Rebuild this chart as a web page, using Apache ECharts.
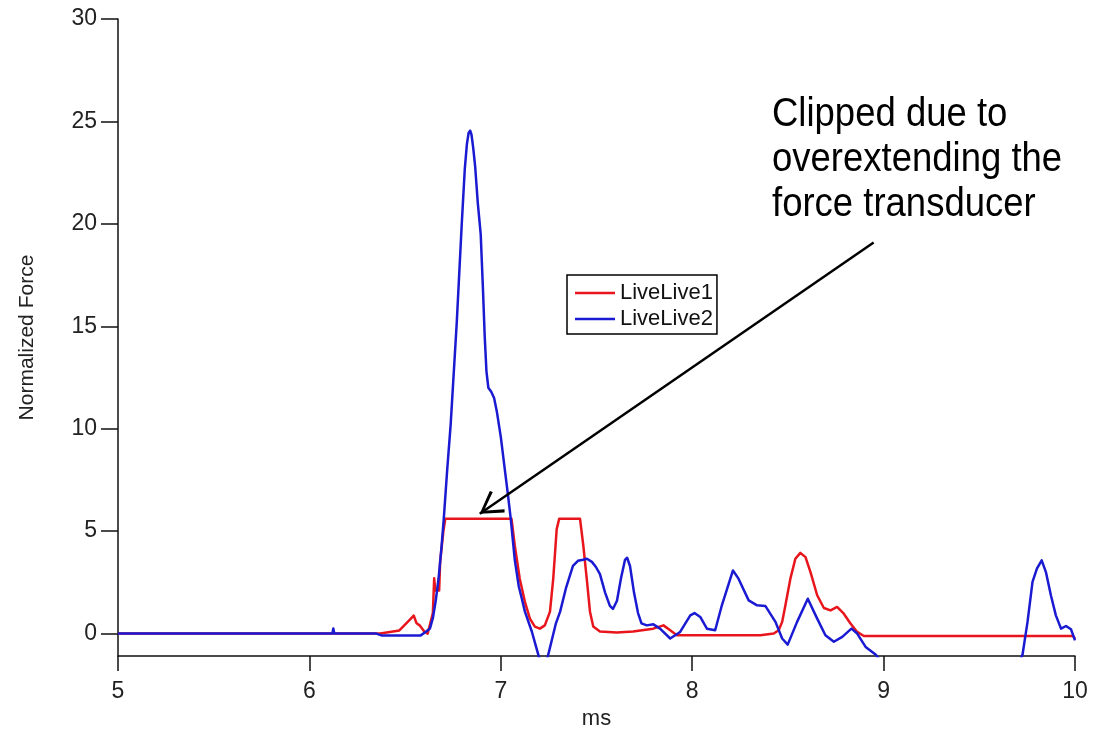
<!DOCTYPE html>
<html>
<head>
<meta charset="utf-8">
<script src="https://cdn.jsdelivr.net/npm/echarts@6/dist/echarts.min.js"></script>
<style>
html,body{margin:0;padding:0;background:#fff;}
#chart{width:1095px;height:735px;}
</style>
</head>
<body>
<div id="chart"></div>
<script>
// ---- data ----
const seriesNames = ['LiveLive1', 'LiveLive2'];
const xTicks = [5, 6, 7, 8, 9, 10];
const yTicks = [0, 5, 10, 15, 20, 25, 30];

const redX = [5, 6.30, 6.37, 6.47, 6.52, 6.545, 6.56, 6.576, 6.60, 6.618, 6.645, 6.652, 6.658, 6.678, 6.683, 6.70, 6.71,
  7.056, 7.073, 7.099, 7.126, 7.152, 7.178, 7.204, 7.23, 7.257, 7.274, 7.292, 7.305,
  7.414, 7.431, 7.449, 7.466, 7.483, 7.518, 7.606, 7.691, 7.796, 7.85, 7.885, 7.92,
  8.356, 8.426, 8.452, 8.47, 8.487, 8.513, 8.539, 8.565, 8.592, 8.618, 8.653, 8.688, 8.723, 8.757, 8.792, 8.827, 8.862, 8.897,
  9.99, 10.0];
const redY = [0, 0, 0, 0.15, 0.63, 0.88, 0.5, 0.4, 0.1, 0, 1.0, 2.7, 2.1, 2.1, 3.5, 5.0, 5.6,
  5.6, 4.3, 2.68, 1.55, 0.73, 0.34, 0.24, 0.4, 1.07, 2.68, 5.1, 5.6,
  5.6, 4.3, 2.68, 1.07, 0.34, 0.1, 0.05, 0.1, 0.24, 0.4, 0.16, -0.08,
  -0.08, 0, 0.16, 0.57, 1.38, 2.68, 3.65, 3.94, 3.73, 3.0, 1.87, 1.25, 1.13, 1.3, 0.97, 0.49, 0.08, -0.12,
  -0.12, -0.25];

const blueX = [5.0, 6.12, 6.125, 6.13, 6.35, 6.38, 6.58, 6.61, 6.63, 6.645, 6.66, 6.675, 6.69, 6.702, 6.72, 6.738, 6.77,
  6.796, 6.812, 6.823, 6.832, 6.84, 6.847, 6.856, 6.866, 6.88, 6.895, 6.906, 6.916, 6.925, 6.935, 6.95, 6.965, 6.98, 7.0, 7.021, 7.037, 7.052,
  7.073, 7.094, 7.11, 7.126, 7.162, 7.183, 7.204, 7.225, 7.246, 7.267, 7.288, 7.31, 7.34, 7.377, 7.403, 7.43,
  7.45, 7.476, 7.497, 7.518, 7.545, 7.57, 7.586, 7.607, 7.628, 7.649, 7.66, 7.675, 7.696, 7.717, 7.735, 7.763,
  7.797, 7.832, 7.885, 7.937, 7.99, 8.012, 8.042, 8.077, 8.12, 8.155, 8.213, 8.242, 8.295, 8.339, 8.382, 8.435,
  8.47, 8.499, 8.548, 8.604, 8.653, 8.696, 8.74, 8.784, 8.832, 8.862, 8.906, 8.958, 8.99, 9.2, 9.6, 9.70,
  9.726, 9.752, 9.778, 9.801, 9.826, 9.848, 9.874, 9.9, 9.927, 9.953, 9.979, 10.0];
const blueY = [0, 0, 0.25, 0, 0, -0.1, -0.1, 0.1, 0.25, 0.75, 1.6, 2.7, 4.2, 5.6, 8.0, 10.2, 15.2,
  20, 22.7, 23.9, 24.45, 24.55, 24.35, 23.7, 22.8, 21, 19.5, 17, 14.5, 12.8, 12.0, 11.8, 11.5, 10.8, 9.6, 8.0, 6.8, 5.6,
  3.6, 2.3, 1.7, 1.07, 0.1, -0.6, -1.3, -1.6, -1.1, -0.3, 0.5, 1.07, 2.2, 3.3, 3.55, 3.6,
  3.65, 3.5, 3.25, 2.9, 2.0, 1.35, 1.2, 1.6, 2.7, 3.6, 3.7, 3.3, 2.0, 1.0, 0.5, 0.4,
  0.45, 0.24, -0.24, 0.08, 0.89, 1.0, 0.81, 0.24, 0.16, 1.38, 3.08, 2.68, 1.62, 1.38, 1.35, 0.57,
  -0.24, -0.54, 0.57, 1.7, 0.73, -0.08, -0.4, -0.16, 0.24, 0, -0.65, -1.02, -1.4, -2.0, -2.0, -1.6,
  -1.02, 0.57, 2.52, 3.17, 3.57, 3.0, 1.87, 0.89, 0.24, 0.37, 0.21, -0.33];

// annotation arrow (data coordinates) and text
const arrowFrom = [8.948, 19.09];
const arrowTo = [6.89, 5.85];
const noteText = 'Clipped due to\noverextending the\nforce transducer';

// ---- chart ----
const zip = (xs, ys) => xs.map((x, i) => [x, ys[i]]);
const FONT = '"Liberation Sans", Arial, sans-serif';
const chevron = 'path://M50,-100 L50,-100 M50,0 L100,92 L90,100 L50,22 L10,100 L0,92 Z';

const chart = echarts.init(document.getElementById('chart'), null, {renderer: 'canvas'});
chart.setOption({
  backgroundColor: '#fff',
  animation: false,
  grid: {left: 118, right: 20, top: 19, bottom: 77, containLabel: false},
  legend: {
    orient: 'vertical', left: 567, top: 275,
    data: seriesNames,
    icon: 'rect',
    backgroundColor: '#fff',
    borderColor: '#000', borderWidth: 1.5,
    padding: [6, 4, 3, 8],
    itemWidth: 40, itemHeight: 2.5, itemGap: 2, itemTextGap: 12,
    textStyle: {fontFamily: FONT, fontSize: 22, color: '#111', lineHeight: 24}
  },
  xAxis: {
    type: 'value', min: 5, max: 10, interval: 1,
    name: 'ms', nameLocation: 'middle', nameGap: 48,
    nameTextStyle: {fontFamily: FONT, fontSize: 22, color: '#222'},
    axisLine: {onZero: false, lineStyle: {color: '#111', width: 1.5}},
    axisTick: {show: true, inside: false, length: 15, lineStyle: {color: '#111', width: 1.5}},
    axisLabel: {margin: 24, fontFamily: FONT, fontSize: 23, color: '#222', customValues: xTicks},
    splitLine: {show: false}
  },
  yAxis: {
    type: 'value', min: -1.1, max: 30,
    name: 'Normalized Force', nameLocation: 'middle', nameGap: 80,
    nameTextStyle: {fontFamily: FONT, fontSize: 21, color: '#222'},
    axisLine: {show: true, onZero: false, lineStyle: {color: '#111', width: 1.5}},
    axisTick: {show: true, inside: false, length: 17, lineStyle: {color: '#111', width: 1.5}, customValues: yTicks},
    axisLabel: {margin: 21, fontFamily: FONT, fontSize: 23, color: '#222', customValues: yTicks},
    splitLine: {show: false}
  },
  series: [
    {
      name: seriesNames[0], type: 'line', data: zip(redX, redY),
      showSymbol: false, symbol: 'none', clip: true,
      lineStyle: {color: '#e8161c', width: 2.5, join: 'round'}, itemStyle: {color: '#e8161c'},
      z: 2,
      markLine: {
        silent: true, animation: false,
        symbol: ['none', chevron], symbolSize: [26, 46],
        label: {show: false},
        lineStyle: {color: '#000', width: 2.5, type: 'solid'},
        itemStyle: {color: '#000'},
        emphasis: {disabled: true},
        data: [[{coord: arrowFrom}, {coord: arrowTo}]]
      }
    },
    {
      name: seriesNames[1], type: 'line', data: zip(blueX, blueY),
      showSymbol: false, symbol: 'none', clip: true,
      lineStyle: {color: '#1a1ad2', width: 2.5, join: 'round'}, itemStyle: {color: '#1a1ad2'},
      z: 3
    }
  ],
  graphic: [{
    type: 'text', x: 772, y: 92, scaleX: 0.89, scaleY: 1,
    style: {text: noteText, font: '41px ' + FONT, fill: '#000', lineHeight: 45}
  }]
});
</script>
</body>
</html>
